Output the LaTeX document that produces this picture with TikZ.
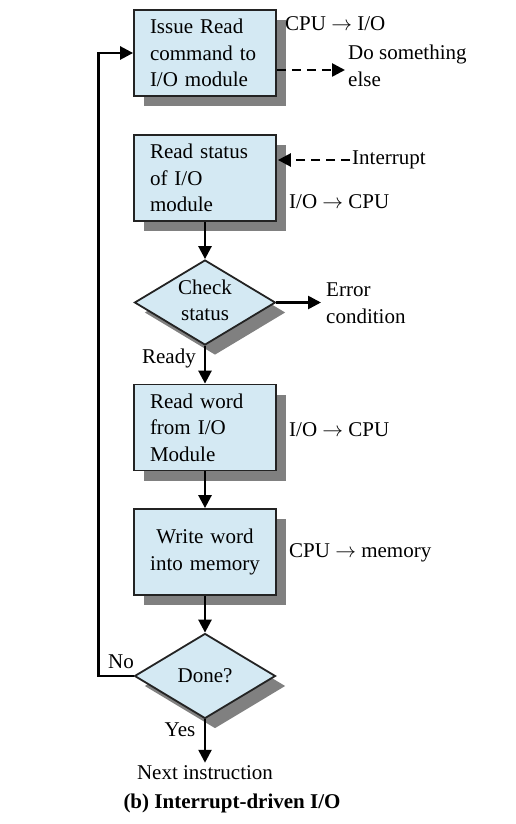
\documentclass[tikz,border=0pt]{standalone}
\usepackage{fontspec}
\setmainfont{Liberation Serif}
\usetikzlibrary{shapes.geometric,shadows,arrows.meta}
\definecolor{boxfill}{RGB}{212,233,243}
\definecolor{shadowgray}{RGB}{128,128,128}
\definecolor{edgecol}{RGB}{35,35,35}
\begin{document}
\begin{tikzpicture}[x=1pt,y=-1pt,
  every node/.style={font=\fontsize{21}{26.5}\selectfont},
  box/.style={draw=edgecol, line width=1.8pt, fill=boxfill, minimum width=142pt,
    minimum height=86pt, text width=110pt, inner xsep=16pt, inner ysep=0pt, align=left,
    drop shadow={shadow xshift=10pt, shadow yshift=-10pt, fill=shadowgray, opacity=1}},
  dec/.style={shape=diamond, draw=edgecol, line width=1.8pt, fill=boxfill, aspect=1.66,
    minimum width=141pt, minimum height=85pt, inner sep=0pt,
    drop shadow={shadow xshift=10pt, shadow yshift=-10pt, fill=shadowgray, opacity=1}},
  arr/.style={line width=2.6pt, draw=black, -{Triangle[length=13pt,width=13pt]}},
  darr/.style={arr, dash pattern=on 9pt off 6pt},
  lbl/.style={inner sep=0pt, anchor=west, align=left}
]
\useasboundingbox (0,0) rectangle (516,824);

\node[box] (b1) at (205,53) {Issue Read\\command to\\I/O module};
\node[box] (b2) at (205,178) {Read status\\of I/O\\module};
\node[dec, label={[align=center, inner sep=0pt, yshift=2pt]center:Check\\status}] (d1) at (205,302.5) {};
\node[box] (b3) at (205,427.5) {Read word\\from I/O\\Module};
\node[box, align=center] (b4) at (205,552) {Write word\\into memory};
\node[dec, label={[inner sep=0pt]center:Done?}] (d2) at (205,676) {};
\node[inner sep=3pt] (next) at (205,773) {Next instruction};
\node[inner sep=0pt] (cap) at (232,803) {\bfseries (b) Interrupt-driven I/O};

\node[lbl] (l1) at (285,24) {CPU $\rightarrow$ I/O};
\node[lbl] (l2) at (348,66) {Do something\\else};
\node[lbl] (l3) at (352,160) {Interrupt};
\node[lbl] (l4) at (289,202) {I/O $\rightarrow$ CPU};
\node[lbl] (l5) at (326,303) {Error\\condition};
\node[inner sep=0pt, anchor=east] (ready) at (196,358) {Ready};
\node[lbl] (l6) at (289,430) {I/O $\rightarrow$ CPU};
\node[lbl] (l7) at (289,553) {CPU $\rightarrow$ memory};
\node[inner sep=0pt] (no) at (121,662) {No};
\node[inner sep=0pt] (yes) at (180,730) {Yes};

\coordinate (dse) at (345,70);
\coordinate (irq) at (350,160);
\coordinate (err) at (321,302.5);

\draw[arr] (b2.south) -- (d1.north);
\draw[arr] (d1.south) -- (b3.north);
\draw[arr] (b3.south) -- (b4.north);
\draw[arr] (b4.south) -- (d2.north);
\draw[arr] (d2.south) -- (next.north);
\draw[arr] (d1.east) -- (err);
\draw[arr] (d2.west) -- ++(-35,0) |- (b1.west);
\draw[darr] ([yshift=-17pt]b1.east) -- (dse);
\draw[darr] (irq) -- ([yshift=18pt,xshift=1pt]b2.east);
\end{tikzpicture}
\end{document}
